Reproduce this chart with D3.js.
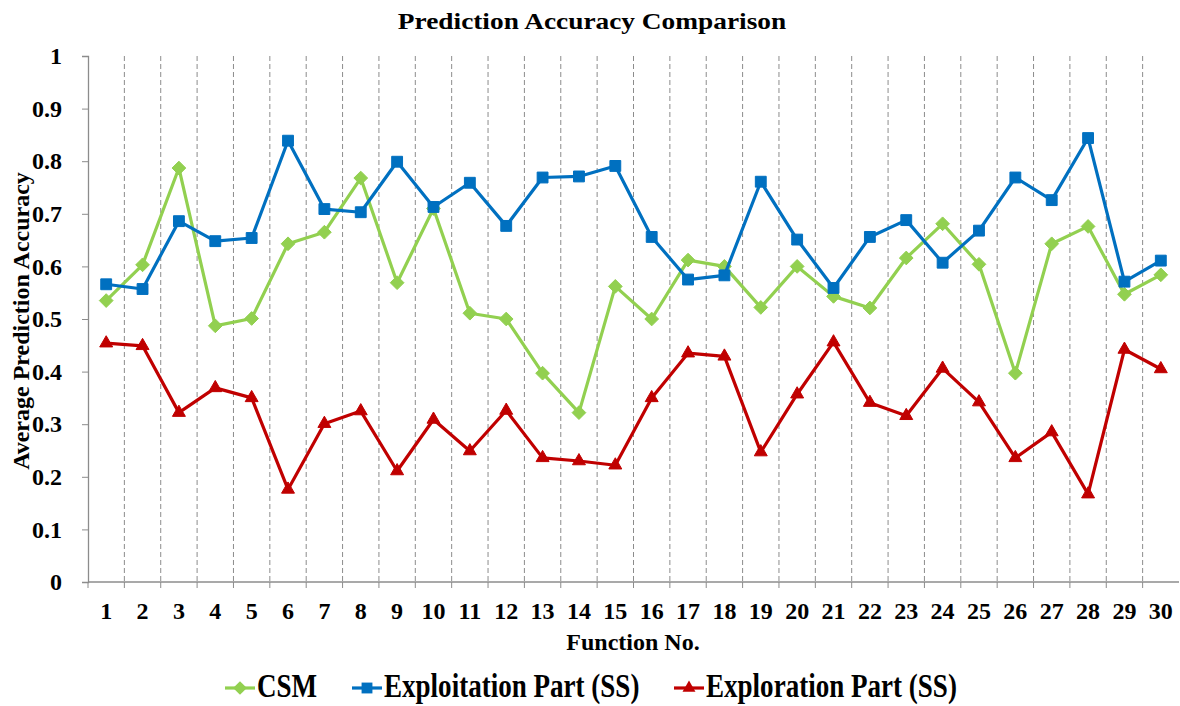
<!DOCTYPE html>
<html>
<head>
<meta charset="utf-8">
<script src="https://cdn.jsdelivr.net/npm/d3@7/dist/d3.min.js"></script>
<style>
  body { margin: 0; background: #fff; }
  text { font-family: "Liberation Serif", "Times New Roman", serif; font-weight: bold; fill: #000; }
</style>
</head>
<body>
<div id="chart"></div>
<script>
// function numbers 1..30
var functions = [1, 2, 3, 4, 5, 6, 7, 8, 9, 10, 11, 12, 13, 14, 15,
                 16, 17, 18, 19, 20, 21, 22, 23, 24, 25, 26, 27, 28, 29, 30];

var csm = [0.535, 0.603, 0.787, 0.487, 0.501, 0.643, 0.665, 0.768, 0.569, 0.710,
           0.511, 0.500, 0.397, 0.322, 0.562, 0.500, 0.612, 0.600, 0.522, 0.600,
           0.543, 0.521, 0.616, 0.681, 0.604, 0.397, 0.643, 0.676, 0.547, 0.584];

var exploitation = [0.566, 0.557, 0.686, 0.648, 0.654, 0.839, 0.709, 0.703, 0.799, 0.713,
                    0.759, 0.677, 0.769, 0.771, 0.791, 0.656, 0.575, 0.583, 0.761, 0.651,
                    0.559, 0.656, 0.688, 0.607, 0.668, 0.769, 0.726, 0.844, 0.571, 0.611];

var exploration = [0.454, 0.449, 0.322, 0.369, 0.350, 0.176, 0.301, 0.325, 0.211, 0.309,
                   0.249, 0.326, 0.236, 0.230, 0.222, 0.350, 0.435, 0.429, 0.247, 0.357,
                   0.456, 0.341, 0.316, 0.406, 0.342, 0.236, 0.285, 0.167, 0.442, 0.405];

var yTicks = [0, 0.1, 0.2, 0.3, 0.4, 0.5, 0.6, 0.7, 0.8, 0.9, 1];

var series = [
    {name: "CSM", values: csm, color: "#92D050", symbol: d3.symbolDiamond2, size: 120},
    {name: "Exploitation Part (SS)", values: exploitation, color: "#0070C0", symbol: d3.symbolSquare2, size: 150},
    {name: "Exploration Part (SS)", values: exploration, color: "#C00000", symbol: d3.symbolTriangle2, size: 120}
];

var W = 1180, H = 706;
var margin = {top: 56, right: 1, bottom: 124, left: 88};
var width = W - margin.left - margin.right,
    height = H - margin.top - margin.bottom;

var svg = d3.select("#chart").append("svg")
    .attr("width", W)
    .attr("height", H);

var g = svg.append("g")
    .attr("transform", "translate(" + margin.left + "," + margin.top + ")");

var x = d3.scaleBand()
    .domain(functions)
    .range([0, width]);

var y = d3.scaleLinear()
    .domain([0, 1])
    .range([height, 0]);

// dashed vertical separators between categories
g.append("g")
    .selectAll("line")
    .data(functions.slice(1))
    .enter().append("line")
    .attr("x1", function (d) { return x(d); })
    .attr("x2", function (d) { return x(d); })
    .attr("y1", 0)
    .attr("y2", height)
    .attr("stroke", "#8c8c8c")
    .attr("stroke-width", 1)
    .attr("stroke-dasharray", "5,3");

// x axis: ticks on band boundaries, labels centred in bands
var xAxis = g.append("g")
    .attr("transform", "translate(0," + height + ")");
xAxis.append("line")
    .attr("x1", 0).attr("x2", width)
    .attr("stroke", "#8c8c8c").attr("stroke-width", 1.3);
xAxis.selectAll(".tk")
    .data(functions)
    .enter().append("line")
    .attr("x1", function (d) { return x(d); })
    .attr("x2", function (d) { return x(d); })
    .attr("y1", 0).attr("y2", 6)
    .attr("stroke", "#8c8c8c");
xAxis.selectAll("text")
    .data(functions)
    .enter().append("text")
    .attr("x", function (d) { return x(d) + x.bandwidth() / 2; })
    .attr("y", 37)
    .attr("text-anchor", "middle")
    .style("font-size", "24px")
    .text(function (d) { return d; });

// y axis
var yAxis = g.append("g")
    .call(d3.axisLeft(y).tickValues(yTicks).tickSize(6).tickPadding(20)
        .tickFormat(function (d) { return d3.format("")(d); }));
yAxis.select(".domain").attr("stroke", "#8c8c8c").attr("stroke-width", 1.3);
yAxis.selectAll(".tick line").attr("stroke", "#8c8c8c");
yAxis.selectAll(".tick text")
    .style("font-size", "24px")
    .attr("fill", "#000");

// lines and markers
var line = d3.line()
    .x(function (d, i) { return x(functions[i]) + x.bandwidth() / 2; })
    .y(function (d) { return y(d); });

series.forEach(function (s) {
    g.append("path")
        .datum(s.values)
        .attr("fill", "none")
        .attr("stroke", s.color)
        .attr("stroke-width", 3.2)
        .attr("stroke-linejoin", "round")
        .attr("d", line);

    g.append("g")
        .selectAll("path")
        .data(s.values)
        .enter().append("path")
        .attr("transform", function (d, i) {
            return "translate(" + (x(functions[i]) + x.bandwidth() / 2) + "," + y(d) + ")";
        })
        .attr("d", d3.symbol().type(s.symbol).size(s.size))
        .attr("fill", s.color)
        .attr("stroke", s.color)
        .attr("stroke-width", 1);
});

// title (the source font is drawn a little wide)
svg.append("text")
    .attr("transform", "translate(592,29) scale(1.14,1)")
    .attr("text-anchor", "middle")
    .style("font-size", "24px")
    .text("Prediction Accuracy Comparison");

// axis titles
svg.append("text")
    .attr("x", 633)
    .attr("y", 650)
    .attr("text-anchor", "middle")
    .style("font-size", "24px")
    .text("Function No.");

svg.append("text")
    .attr("transform", "translate(29,321) rotate(-90)")
    .attr("text-anchor", "middle")
    .style("font-size", "24px")
    .text("Average Prediction Accuracy");

// legend (tall, narrow lettering as in the source)
var legendX = [225, 352, 674];
var legend = svg.append("g")
    .selectAll("g")
    .data(series)
    .enter().append("g")
    .attr("transform", function (d, i) { return "translate(" + legendX[i] + ",688)"; });

legend.append("line")
    .attr("x1", 0).attr("x2", 30)
    .attr("stroke", function (d) { return d.color; })
    .attr("stroke-width", 3.2);
legend.append("path")
    .attr("transform", "translate(15,0)")
    .attr("d", function (d) { return d3.symbol().type(d.symbol).size(d.size)(); })
    .attr("fill", function (d) { return d.color; });
legend.append("text")
    .attr("transform", "translate(32,9) scale(0.82,1)")
    .style("font-size", "33px")
    .text(function (d) { return d.name; });
</script>
</body>
</html>
